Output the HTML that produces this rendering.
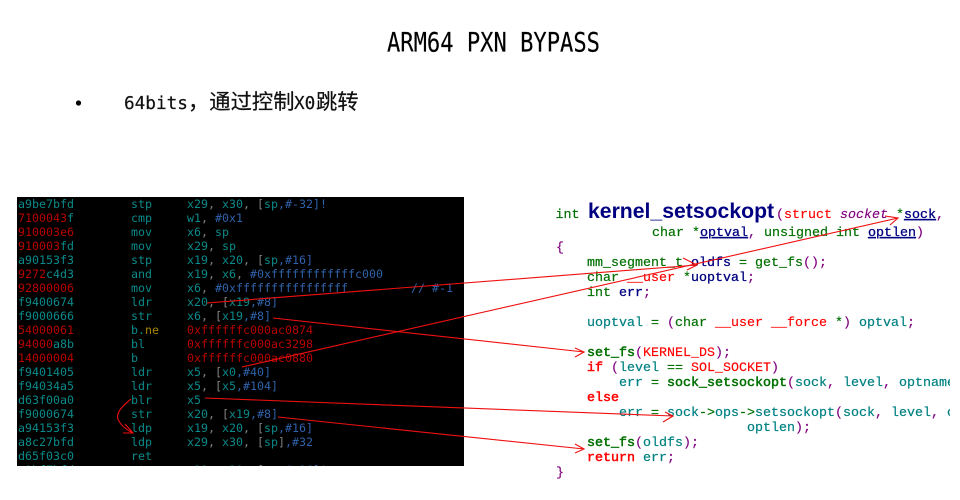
<!DOCTYPE html>
<html><head><meta charset="utf-8"><style>
html,body{margin:0;padding:0;background:#fff}
svg{display:block}
.a text{font-family:"DejaVu Sans Mono",monospace;font-size:11.63px}
.c text{font-family:"Liberation Mono",monospace;font-size:13.33px}
.t{fill:#0a8a8a}.r{fill:#b80000}.b{fill:#2f62aa}.g{fill:#808080}.y{fill:#a88600}
.gn{fill:#007000;stroke:#007000;stroke-width:.2}.n{fill:#000080;stroke:#000080;stroke-width:.3}.rd{fill:#f00;stroke:#f00;stroke-width:.15}.pu{fill:#800080;stroke:#800080;stroke-width:.15}.te{fill:#008080;stroke:#008080;stroke-width:.2}
.B{stroke-width:.5}
</style></head><body>
<svg width="960" height="500" xmlns="http://www.w3.org/2000/svg" xml:space="preserve">
<rect width="960" height="500" fill="#fff"/>
<text transform="translate(387 51.5) scale(1 1.2)" font-family="'DejaVu Sans Mono',monospace" font-size="22.1" fill="#000" stroke="#000" stroke-width=".12" textLength="213" lengthAdjust="spacingAndGlyphs">ARM64 PXN BYPASS</text>
<circle cx="78.5" cy="103" r="2.6" fill="#000"/>
<text x="124" y="109" font-family="'DejaVu Sans Mono',monospace" font-size="17.7" fill="#111" stroke="#111" stroke-width=".2">64bits</text>
<text x="188" y="109" font-family="'WenQuanYi Zen Hei','Noto Sans CJK SC',sans-serif" font-size="21.3" fill="#111" stroke="#111" stroke-width=".2">，通过控制</text>
<text x="294" y="109" font-family="'DejaVu Sans Mono',monospace" font-size="17.7" fill="#111" stroke="#111" stroke-width=".2">X0</text>
<text x="316" y="109" font-family="'WenQuanYi Zen Hei','Noto Sans CJK SC',sans-serif" font-size="21.3" fill="#111" stroke="#111" stroke-width=".2">跳转</text>

<rect x="17" y="197" width="447" height="269" fill="#000"/>
<clipPath id="p"><rect x="17" y="197" width="447" height="269"/></clipPath>
<g class="a" clip-path="url(#p)">
<text x="18" y="208" class="t">a9be7bfd</text><text x="131" y="208" class="t">stp</text><text x="187" y="208"><tspan class="t">x29</tspan><tspan class="g">, </tspan><tspan class="t">x30</tspan><tspan class="g">, [</tspan><tspan class="t">sp</tspan><tspan class="b">,#-32]!</tspan></text>
<text x="18" y="222"><tspan class="r">7100043</tspan><tspan class="t">f</tspan></text><text x="131" y="222" class="t">cmp</text><text x="187" y="222"><tspan class="t">w1</tspan><tspan class="g">, </tspan><tspan class="b">#0x1</tspan></text>
<text x="18" y="236"><tspan class="r">910003e6</tspan></text><text x="131" y="236" class="t">mov</text><text x="187" y="236"><tspan class="t">x6</tspan><tspan class="g">, </tspan><tspan class="t">sp</tspan></text>
<text x="18" y="250"><tspan class="r">910003</tspan><tspan class="t">fd</tspan></text><text x="131" y="250" class="t">mov</text><text x="187" y="250"><tspan class="t">x29</tspan><tspan class="g">, </tspan><tspan class="t">sp</tspan></text>
<text x="18" y="264" class="t">a90153f3</text><text x="131" y="264" class="t">stp</text><text x="187" y="264"><tspan class="t">x19</tspan><tspan class="g">, </tspan><tspan class="t">x20</tspan><tspan class="g">, [</tspan><tspan class="t">sp</tspan><tspan class="b">,#16]</tspan></text>
<text x="18" y="278"><tspan class="r">9272</tspan><tspan class="t">c4d3</tspan></text><text x="131" y="278" class="t">and</text><text x="187" y="278"><tspan class="t">x19</tspan><tspan class="g">, </tspan><tspan class="t">x6</tspan><tspan class="g">, </tspan><tspan class="b">#0xffffffffffffc000</tspan></text>
<text x="18" y="292" class="r">92800006</text><text x="131" y="292" class="t">mov</text><text x="187" y="292"><tspan class="t">x6</tspan><tspan class="g">, </tspan><tspan class="b">#0xffffffffffffffff</tspan></text><text x="411" y="292" class="b">// #-1</text>
<text x="18" y="306" class="t">f9400674</text><text x="131" y="306" class="t">ldr</text><text x="187" y="306"><tspan class="t">x20</tspan><tspan class="g">, [</tspan><tspan class="t">x19</tspan><tspan class="b">,#8]</tspan></text>
<text x="18" y="320" class="t">f9000666</text><text x="131" y="320" class="t">str</text><text x="187" y="320"><tspan class="t">x6</tspan><tspan class="g">, [</tspan><tspan class="t">x19</tspan><tspan class="b">,#8]</tspan></text>
<text x="18" y="334" class="r">54000061</text><text x="131" y="334"><tspan class="t">b.</tspan><tspan class="y">ne</tspan></text><text x="187" y="334" class="r">0xffffffc000ac0874</text>
<text x="18" y="348"><tspan class="r">94000</tspan><tspan class="t">a8b</tspan></text><text x="131" y="348" class="t">bl</text><text x="187" y="348" class="r">0xffffffc000ac3298</text>
<text x="18" y="362" class="r">14000004</text><text x="131" y="362" class="t">b</text><text x="187" y="362" class="r">0xffffffc000ac0880</text>
<text x="18" y="376" class="t">f9401405</text><text x="131" y="376" class="t">ldr</text><text x="187" y="376"><tspan class="t">x5</tspan><tspan class="g">, [</tspan><tspan class="t">x0</tspan><tspan class="b">,#40]</tspan></text>
<text x="18" y="390" class="t">f94034a5</text><text x="131" y="390" class="t">ldr</text><text x="187" y="390"><tspan class="t">x5</tspan><tspan class="g">, [</tspan><tspan class="t">x5</tspan><tspan class="b">,#104]</tspan></text>
<text x="18" y="404" class="t">d63f00a0</text><text x="131" y="404" class="t">blr</text><text x="187" y="404" class="t">x5</text>
<text x="18" y="418" class="t">f9000674</text><text x="131" y="418" class="t">str</text><text x="187" y="418"><tspan class="t">x20</tspan><tspan class="g">, [</tspan><tspan class="t">x19</tspan><tspan class="b">,#8]</tspan></text>
<text x="18" y="432" class="t">a94153f3</text><text x="131" y="432" class="t">ldp</text><text x="187" y="432"><tspan class="t">x19</tspan><tspan class="g">, </tspan><tspan class="t">x20</tspan><tspan class="g">, [</tspan><tspan class="t">sp</tspan><tspan class="b">,#16]</tspan></text>
<text x="18" y="446" class="t">a8c27bfd</text><text x="131" y="446" class="t">ldp</text><text x="187" y="446"><tspan class="t">x29</tspan><tspan class="g">, </tspan><tspan class="t">x30</tspan><tspan class="g">, [</tspan><tspan class="t">sp</tspan><tspan class="g">]</tspan><tspan class="b">,#32</tspan></text>
<text x="18" y="460" class="t">d65f03c0</text><text x="131" y="460" class="t">ret</text>
<text x="18" y="474" class="t">a9bf7bfd</text><text x="131" y="474" class="t">stp</text><text x="187" y="474"><tspan class="t">x29</tspan><tspan class="g">, </tspan><tspan class="t">x30</tspan><tspan class="g">, [</tspan><tspan class="t">sp</tspan><tspan class="b">,#-16]!</tspan></text>
</g>

<clipPath id="q"><rect x="540" y="190" width="410" height="300"/></clipPath>
<g clip-path="url(#q)">
<g class="c" transform="translate(0 -1)" xml:space="preserve">
<text x="555.5" y="219" class="gn">int</text>
<text x="588" y="219" font-weight="bold" fill="#000080" style="font-family:'Liberation Sans',sans-serif;font-size:21.2px">kernel_setsockopt</text>
<text x="776" y="219"><tspan class="pu">(</tspan><tspan class="rd">struct</tspan></text>
<text x="840" y="219" class="pu" font-style="italic">socket</text>
<text x="896" y="219" class="gn">*</text><text x="904" y="219" class="n" text-decoration="underline">sock</text><text x="936" y="219" class="pu">,</text>
<text x="652" y="237" class="gn">char</text><text x="692" y="237" class="gn">*</text><text x="700" y="237" class="n" text-decoration="underline">optval</text><text x="748" y="237" class="pu">,</text><text x="764" y="237" class="gn">unsigned int</text><text x="868" y="237" class="n" text-decoration="underline">optlen</text><text x="916" y="237" class="pu">)</text>
<text x="556" y="252" class="pu">{</text>
<text x="587" y="267" class="gn">mm_segment_t</text><text x="691" y="267" class="n">oldfs</text><text x="739" y="267" class="gn">= get_fs</text><text x="803" y="267" class="pu">();</text>
<text x="587" y="282" class="gn">char</text><text x="627" y="282" class="rd">__user</text><text x="683" y="282" class="gn">*</text><text x="691" y="282" class="n">uoptval</text><text x="747" y="282" class="pu">;</text>
<text x="587" y="297" class="gn">int</text><text x="619" y="297" class="n">err</text><text x="643" y="297" class="pu">;</text>
<text x="587" y="327" class="te">uoptval</text><text x="651" y="327" class="gn">=</text><text x="667" y="327" class="pu">(</text><text x="675" y="327" class="gn">char</text><text x="715" y="327" class="rd">__user __force</text><text x="835" y="327" class="gn">*</text><text x="843" y="327" class="pu">)</text><text x="859" y="327" class="te">optval</text><text x="907" y="327" class="pu">;</text>
<text x="587" y="357" class="gn B">set_fs</text><text x="635" y="357" class="pu">(</text><text x="643" y="357" class="rd">KERNEL_DS</text><text x="715" y="357" class="pu">);</text>
<text x="587" y="372" class="rd B">if</text><text x="611" y="372" class="pu">(</text><text x="619" y="372" class="te">level</text><text x="667" y="372" class="gn">==</text><text x="691" y="372" class="rd">SOL_SOCKET</text><text x="771" y="372" class="pu">)</text>
<text x="619" y="387" class="te">err</text><text x="651" y="387" class="gn">=</text><text x="667" y="387" class="gn B">sock_setsockopt</text><text x="787" y="387" class="pu">(</text><text x="795" y="387" class="te">sock</text><text x="827" y="387" class="pu">,</text><text x="843" y="387" class="te">level</text><text x="883" y="387" class="pu">,</text><text x="899" y="387" class="te">optname</text>
<text x="587" y="402" class="rd B">else</text>
<text x="619" y="417" class="te">err</text><text x="651" y="417" class="gn">=</text><text x="667" y="417" class="te">sock</text><text x="699" y="417" class="gn">-&gt;</text><text x="715" y="417" class="te">ops</text><text x="739" y="417" class="gn">-&gt;</text><text x="755" y="417" class="te">setsockopt</text><text x="835" y="417" class="pu">(</text><text x="843" y="417" class="te">sock</text><text x="875" y="417" class="pu">,</text><text x="891" y="417" class="te">level</text><text x="931" y="417" class="pu">,</text><text x="947" y="417" class="te">optname</text>
<text x="747" y="432" class="te">optlen</text><text x="795" y="432" class="pu">);</text>
<text x="587" y="447" class="gn B">set_fs</text><text x="635" y="447" class="pu">(</text><text x="643" y="447" class="te">oldfs</text><text x="683" y="447" class="pu">);</text>
<text x="587" y="462" class="rd B">return</text><text x="643" y="462" class="te">err</text><text x="667" y="462" class="pu">;</text>
<text x="556" y="477" class="pu">}</text>
</g>
</g>

<g fill="none" stroke="#f01010" stroke-width="1.1">
<path d="M207 303L697 265M683 258L697 265L687 270"/>
<path d="M273 318L584 352M575 348L584 352L575 357"/>
<path d="M242 367L898 218M885 216L898 218L890 225"/>
<path d="M205 398L673 416M665 412L673 416L663 422"/>
<path d="M278 417L584 449M575 444L584 449L575 453"/>
<path d="M131 399C120 408 116 414 118 419C120 425 127 430 133 433M125 424L133 433L123 433"/>
</g>
</svg>
</body></html>
